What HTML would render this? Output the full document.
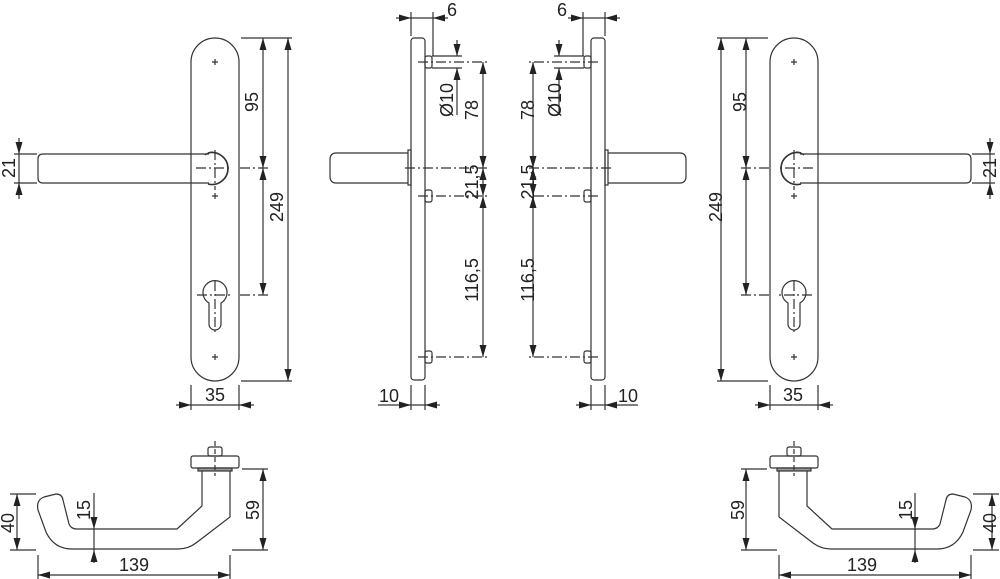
<!DOCTYPE html>
<html><head><meta charset="utf-8"><style>
html,body{margin:0;padding:0;background:#fff;}
svg{display:block;}
text{font-family:"Liberation Sans",sans-serif;font-size:18px;fill:#222;}
</style></head><body>
<svg width="1000" height="579" viewBox="0 0 1000 579" xmlns="http://www.w3.org/2000/svg">
<defs>
<marker id="a" viewBox="0 0 12 7" refX="12" refY="3.5" markerWidth="12" markerHeight="7" markerUnits="userSpaceOnUse" orient="auto-start-reverse"><path d="M0,0 L12,3.5 L0,7 z" fill="#222"/></marker>

<g id="front" fill="none" stroke="#333" stroke-width="1.2">
 <rect x="191" y="38" width="48" height="343" rx="24"/>
 <path d="M209,154 H43 Q38,154 38,159 V178 Q38,183 43,183 H209"/>
 <path d="M208,153 A16,16 0 1 1 208,184" stroke-width="1.6"/>
 <path d="M205,155 A14,14 0 0 1 213,152" />
 <path d="M212,62 h6 M215,59 v6 M212,196 h6 M215,193 v6 M212,357 h6 M215,354 v6"/>
 <path d="M196,168 H232 M215,150 V190 M240,168 H268" stroke-dasharray="10,3,2,3"/>
 <path d="M209,303 A12,12 0 1 1 221,303 L221,324 A6,6 0 0 1 209,324 Z"/>
 <path d="M197,295 H233 M215,281 V335 M240,295 H268" stroke-dasharray="10,3,2,3"/>
 <path d="M241,38 H292 M241,381 H292"/>
 <line x1="263" y1="38" x2="263" y2="168" marker-start="url(#a)" marker-end="url(#a)"/>
 <line x1="263" y1="168" x2="263" y2="295" marker-start="url(#a)" marker-end="url(#a)"/>
 <line x1="288" y1="38" x2="288" y2="381" marker-start="url(#a)" marker-end="url(#a)"/>
 <path d="M14,154 H37 M14,183 H37 M19,154 V183"/>
 <line x1="19" y1="138" x2="19" y2="154" marker-end="url(#a)"/>
 <line x1="19" y1="199" x2="19" y2="183" marker-end="url(#a)"/>
 <path d="M191,385 V410 M239,385 V410 M191,405 H239"/>
 <line x1="176" y1="405" x2="191" y2="405" marker-end="url(#a)"/>
 <line x1="254" y1="405" x2="239" y2="405" marker-end="url(#a)"/>
</g>

<g id="bottom" fill="none" stroke="#333" stroke-width="1.2">
 <rect x="191" y="456" width="48" height="12" rx="2"/>
 <rect x="208" y="447" width="14" height="9" rx="2"/>
 <rect x="198" y="468" width="34" height="3" fill="#999"/>
 <path d="M215,441 V476" stroke-dasharray="5,3"/>
 <path d="M230,471 V517 L196,543 Q188,549 178,549 H72 Q54,549 46,532 L38,510 Q36,500 44,497 L56,494 Q62,494 63,500 L69,524 Q71,529 77,529 H177 L202,506 V471"/>
 <path d="M10,494 H36 M10,550 H36"/>
 <line x1="17" y1="494" x2="17" y2="550" marker-start="url(#a)" marker-end="url(#a)"/>
 <path d="M242,469 H268 M232,550 H268"/>
 <line x1="263" y1="469" x2="263" y2="550" marker-start="url(#a)" marker-end="url(#a)"/>
 <line x1="94" y1="493" x2="94" y2="529" marker-end="url(#a)"/>
 <line x1="94" y1="563" x2="94" y2="550" marker-end="url(#a)"/>
 <path d="M94,529 V550"/>
 <path d="M38,555 V579 M230,555 V579"/>
 <line x1="38" y1="575" x2="230" y2="575" marker-start="url(#a)" marker-end="url(#a)"/>
</g>

<g id="side" fill="none" stroke="#333" stroke-width="1.2">
 <rect x="411" y="38" width="14" height="342" rx="3"/>
 <rect x="408" y="150" width="3" height="35"/>
 <path d="M408,153 H336 Q330,153 330,160 V176 Q330,183 336,183 H408"/>
 <rect x="425" y="56" width="7" height="12" rx="2"/>
 <rect x="425" y="190" width="7" height="12" rx="2"/>
 <rect x="425" y="351" width="7" height="12" rx="2"/>
 <path d="M418,62 H490 M405,168 H490 M418,196 H490 M418,357 H490" stroke-dasharray="10,3,2,3"/>
 <path d="M411,12 V36 M433,12 V56"/>
 <line x1="396" y1="18" x2="411" y2="18" marker-end="url(#a)"/>
 <line x1="448" y1="18" x2="433" y2="18" marker-end="url(#a)"/>
 <path d="M411,18 H433"/>
 <path d="M432,56 H462 M432,68 H462"/>
 <line x1="457" y1="40" x2="457" y2="56" marker-end="url(#a)"/>
 <line x1="457" y1="115" x2="457" y2="68" marker-end="url(#a)"/>
 <line x1="483" y1="62" x2="483" y2="168" marker-start="url(#a)" marker-end="url(#a)"/>
 <line x1="483" y1="168" x2="483" y2="196" marker-start="url(#a)" marker-end="url(#a)"/>
 <line x1="483" y1="196" x2="483" y2="357" marker-start="url(#a)" marker-end="url(#a)"/>
 <path d="M411,385 V410 M425,385 V410 M411,405 H425"/>
 <line x1="378" y1="405" x2="411" y2="405" marker-end="url(#a)"/>
 <line x1="440" y1="405" x2="425" y2="405" marker-end="url(#a)"/>
</g>
</defs>

<use href="#front"/>
<use href="#front" transform="translate(1009,0) scale(-1,1)"/>
<use href="#bottom"/>
<use href="#bottom" transform="translate(1009,0) scale(-1,1)"/>
<use href="#side"/>
<use href="#side" transform="translate(1016,0) scale(-1,1)"/>

<g text-anchor="middle" dominant-baseline="central">
 <text transform="translate(252,102) rotate(-90)">95</text>
 <text transform="translate(277,207) rotate(-90)">249</text>
 <text transform="translate(9,168) rotate(-90)">21</text>
 <text x="215" y="395">35</text>
 <text x="452" y="10">6</text>
 <text transform="translate(447,100) rotate(-90)">Ø10</text>
 <text transform="translate(472,110) rotate(-90)">78</text>
 <text transform="translate(472,182) rotate(-90)">21,5</text>
 <text transform="translate(472,280) rotate(-90)">116,5</text>
 <text x="389" y="396">10</text>
 <text transform="translate(8,523) rotate(-90)">40</text>
 <text transform="translate(84,510) rotate(-90)">15</text>
 <text transform="translate(253,510) rotate(-90)">59</text>
 <text x="134" y="565">139</text>

 <text transform="translate(740,102) rotate(-90)">95</text>
 <text transform="translate(716,207) rotate(-90)">249</text>
 <text transform="translate(990,168) rotate(-90)">21</text>
 <text x="793" y="395">35</text>
 <text x="562" y="10">6</text>
 <text transform="translate(555,100) rotate(-90)">Ø10</text>
 <text transform="translate(528,110) rotate(-90)">78</text>
 <text transform="translate(528,182) rotate(-90)">21,5</text>
 <text transform="translate(528,280) rotate(-90)">116,5</text>
 <text x="628" y="396">10</text>
 <text transform="translate(738,510) rotate(-90)">59</text>
 <text transform="translate(906,510) rotate(-90)">15</text>
 <text transform="translate(990,523) rotate(-90)">40</text>
 <text x="862" y="565">139</text>
</g>
</svg>
</body></html>
